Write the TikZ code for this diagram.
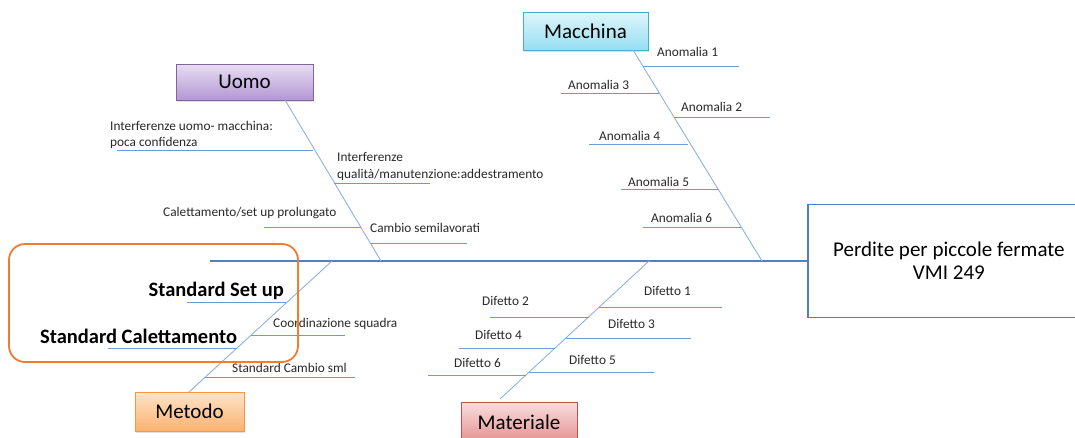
\documentclass[tikz,border=0pt]{standalone}
\usepackage{fontspec}
\setmainfont{Carlito}
\usetikzlibrary{shadows}
\definecolor{SBlue}{RGB}{77,128,196}
\definecolor{LBlue}{RGB}{140,178,226}
\definecolor{RBlue}{RGB}{112,152,210}
\definecolor{TGray}{RGB}{40,40,40}
\definecolor{UTop}{RGB}{232,222,242}
\definecolor{UBot}{RGB}{180,150,212}
\definecolor{UEdge}{RGB}{128,100,162}
\definecolor{MTop}{RGB}{222,246,252}
\definecolor{MBot}{RGB}{150,222,242}
\definecolor{MEdge}{RGB}{75,172,198}
\definecolor{OTop}{RGB}{255,228,200}
\definecolor{OBot}{RGB}{250,178,112}
\definecolor{OEdge}{RGB}{247,150,70}
\definecolor{RTop}{RGB}{250,222,222}
\definecolor{RBot}{RGB}{228,145,145}
\definecolor{REdge}{RGB}{192,80,77}
\definecolor{Frame}{RGB}{237,125,49}

\begin{document}
\begin{tikzpicture}[x=1pt,y=-1pt,
  bone/.style={LBlue, line width=0.9pt},
  rib/.style={RBlue, line width=0.9pt},
  lab/.style={font=\fontsize{13.3}{15}\selectfont, text=TGray, inner sep=0pt, anchor=west},
  biglab/.style={font=\bfseries\fontsize{20.5}{24}\selectfont, inner sep=0pt},
  cat/.style={draw, line width=0.8pt, inner sep=0pt,
    font=\fontsize{21}{24}\selectfont,
    drop shadow={shadow xshift=1pt, shadow yshift=-1.5pt, opacity=0.25}}
]
\useasboundingbox (0,0) rectangle (1075,437);
\clip (0,0) rectangle (1075,437);

% spine and effect
\coordinate (spL) at (210,261);
\coordinate (spR) at (807,261);
\draw[SBlue, line width=2.2pt] (spL) -- (spR);
\node[draw=SBlue, line width=1.8pt, minimum width=282, minimum height=113,
  align=center, font=\fontsize{21}{23}\selectfont, anchor=west]
  (effetto) at (spR) {Perdite per piccole fermate\\VMI 249};

% categories
\node[cat, draw=UEdge, top color=UTop, bottom color=UBot,
  minimum width=137, minimum height=36] (uomo) at (244.5,82) {Uomo};
\node[cat, draw=MEdge, top color=MTop, bottom color=MBot,
  minimum width=125, minimum height=38] (macchina) at (585.5,31) {Macchina};
\node[cat, draw=OEdge, top color=OTop, bottom color=OBot,
  minimum width=109, minimum height=39] (metodo) at (189.5,411.5) {Metodo};
\node[cat, draw=REdge, top color=RTop, bottom color=RBot,
  minimum width=116, minimum height=40] (materiale) at (519,422) {Materiale};

% bones
\coordinate (u0) at (285,100);   \coordinate (u1) at (381,261);
\coordinate (m0) at (633,50);    \coordinate (m1) at (762,261);
\coordinate (t0) at (189,392);   \coordinate (t1) at (332,261);
\coordinate (r0) at (500,399);   \coordinate (r1) at (649,261);
\draw[bone] (u0) -- (u1);
\draw[bone] (m0) -- (m1);
\draw[bone] (t0) -- (t1);
\draw[bone] (r0) -- (r1);

% ribs
\foreach \xa/\xb/\y in {643/739/66, 561/659/93, 674/770/117, 589/688/144,
    621/718/189, 643/741/227,
    117/313/150, 334/430/183, 264/361/227, 371/467/243,
    187/286/302, 251/345/335, 108/237/348, 205/355/377,
    599/722/307, 490/589/317, 566/691/338, 459/555/348, 529/654/372, 428/526/375}
  \draw[rib] (\xa,\y) -- (\xb,\y);

% labels
\foreach \x/\y/\t [count=\i] in {657/52/Anomalia 1, 568/85/Anomalia 3, 681/107/Anomalia 2,
    599/136/Anomalia 4, 628/182/Anomalia 5, 651/218/Anomalia 6}
  \node[lab] (ano\i) at (\x,\y) {\t};
\foreach \x/\y/\t [count=\i] in {644/291/Difetto 1, 482/301/Difetto 2, 608/324/Difetto 3,
    475/335/Difetto 4, 569/360/Difetto 5, 454/363/Difetto 6}
  \node[lab] (dif\i) at (\x,\y) {\t};
\node[lab, align=left, font=\fontsize{13.3}{16}\selectfont] (int1) at (110,135)
  {Interferenze uomo- macchina:\\poca confidenza};
\node[lab, align=left, font=\fontsize{13.3}{17}\selectfont] (int2) at (337,166.5)
  {Interferenze\\qualità/manutenzione:addestramento};
\node[lab] (calet) at (163,213) {Calettamento/set up prolungato};
\node[lab] (cambio) at (370,228) {Cambio semilavorati};
\node[lab] (coord) at (273,324) {Coordinazione squadra};
\node[lab] (cambiosml) at (232,368) {Standard Cambio sml};
\node[biglab, anchor=east] (stdset) at (284,291) {Standard Set up};
\node[biglab, anchor=west] (stdcal) at (40,336) {Standard Calettamento};

% highlight frame
\draw[Frame, line width=1.8pt, rounded corners=16pt] (9,244) rectangle (298,362);
\end{tikzpicture}
\end{document}
